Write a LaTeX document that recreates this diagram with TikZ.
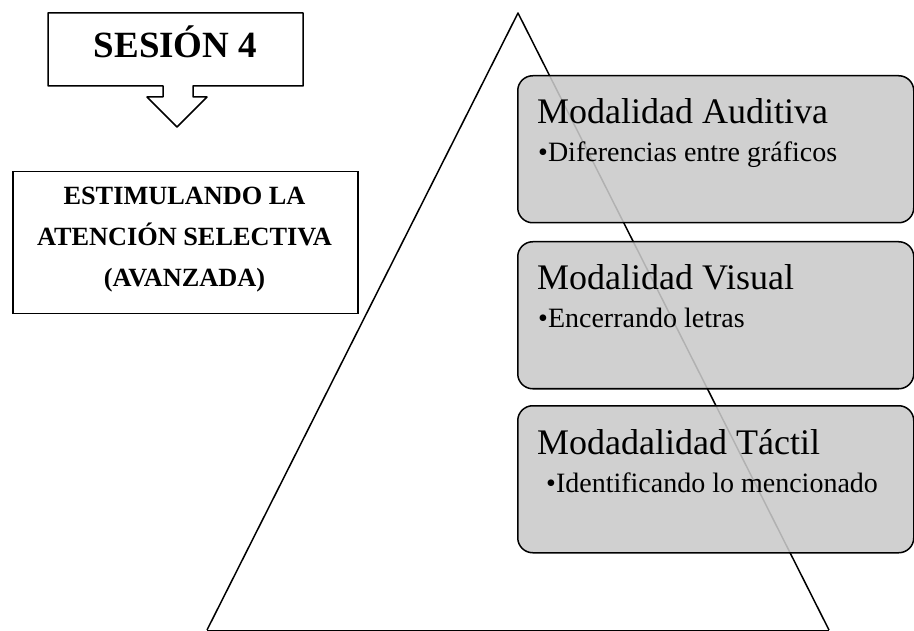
\documentclass[tikz,border=0pt]{standalone}
\usepackage{fontspec}
\setmainfont{Liberation Serif}
\definecolor{boxgray}{RGB}{202,202,202}
\definecolor{baseline}{RGB}{215,215,215}
\tikzset{
  edge/.style={line width=1.5pt, line join=round},
  modbox/.style={draw, line width=1.5pt, fill=boxgray, fill opacity=0.88, draw opacity=1,
    rounded corners=15pt, minimum width=396pt, minimum height=147pt, anchor=north west, inner sep=0pt},
  plainbox/.style={draw, line width=1.5pt, anchor=north west, inner sep=0pt},
  modtitle/.style={anchor=base west, inner sep=0pt, font=\fontsize{36}{40}\selectfont},
  moditem/.style={anchor=base west, inner sep=0pt, font=\fontsize{28}{32}\selectfont},
  lefttext/.style={anchor=base, inner sep=0pt, font=\fontsize{26.3}{30}\selectfont\bfseries},
}
\begin{document}
\begin{tikzpicture}[x=1pt,y=-1pt]
\useasboundingbox (0,0) rectangle (914,631);
% pyramid
\coordinate (apex) at (518,13);
\coordinate (bl) at (207,630);
\coordinate (br) at (829,630);
\draw[baseline, line width=1pt] (bl) -- (br);
\draw[edge] (bl) -- (apex) -- (br);
% callout SESION 4
\draw[edge] (48,13) -- (303,13) -- (303,86) -- (193,86) -- (193,97) -- (207,97)
  -- (177,127) -- (147,97) -- (163,97) -- (163,86) -- (48,86) -- cycle;
\node[anchor=base, inner sep=0pt, font=\fontsize{37}{40}\selectfont\bfseries] (s4) at (175.5,58) {SESIÓN 4};
% left box
\node[plainbox, minimum width=345pt, minimum height=142pt] (lb) at (12,171) {};
\node[lefttext] (l1) at (184.5,205) {ESTIMULANDO LA};
\node[lefttext] (l2) at (184.5,246) {ATENCIÓN SELECTIVA};
\node[lefttext] (l3) at (184.5,287) {(AVANZADA)};
% modality boxes
\node[modbox] (b1) at (517,75) {};
\node[modtitle] (t1) at (537,124) {Modalidad Auditiva};
\node[moditem] (i1) at (538,162) {•Diferencias entre gráficos};
\node[modbox] (b2) at (517,241) {};
\node[modtitle] (t2) at (537,290) {Modalidad Visual};
\node[moditem] (i2) at (538,328) {•Encerrando letras};
\node[modbox] (b3) at (517,405) {};
\node[modtitle] (t3) at (537,454) {Modadalidad Táctil};
\node[moditem] (i3) at (546,492) {•Identificando lo mencionado};
\end{tikzpicture}
\end{document}
